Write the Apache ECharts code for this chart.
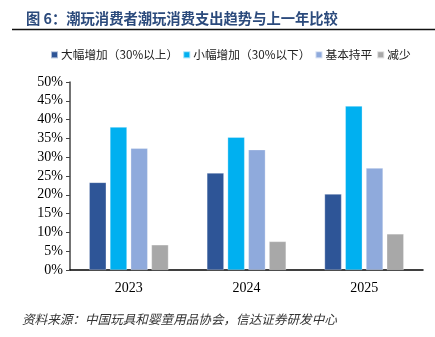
<!DOCTYPE html>
<html>
<head>
<meta charset="utf-8">
<script src="https://cdn.jsdelivr.net/npm/echarts@6/dist/echarts.min.js"></script>
<style>
  html, body { margin: 0; padding: 0; background: #fff; }
  #chart { width: 435px; height: 337px; }
</style>
</head>
<body>
<div id="chart"></div>
<script>
// Survey years and share of respondents per spending-trend answer (%)
const years = ['2023', '2024', '2025'];
const seriesNames = ['大幅增加（30%以上）', '小幅增加（30%以下）', '基本持平', '减少'];
const bigIncrease = [23.3, 25.8, 20.2];
const smallIncrease = [38.0, 35.3, 43.6];
const flat = [32.4, 32.0, 27.1];
const decrease = [6.7, 7.6, 9.6];
const yTicks = [0, 5, 10, 15, 20, 25, 30, 35, 40, 45, 50];

const colors = ['#2E5597', '#00B0F0', '#8FAADC', '#A8A8A8'];
const values = [bigIncrease, smallIncrease, flat, decrease];

const chart = echarts.init(document.getElementById('chart'));

const serifFont = '"Liberation Serif", "Times New Roman", serif';
const cjkFont = '"Noto Sans CJK SC", sans-serif';

chart.setOption({
  animation: false,
  backgroundColor: '#fff',
  color: colors,
  title: {
    text: '图 6：潮玩消费者潮玩消费支出趋势与上一年比较',
    left: 21,
    top: 6,
    textStyle: {
      fontFamily: cjkFont,
      fontSize: 14.3,
      fontWeight: 'bold',
      color: '#2B4A7C'
    }
  },
  graphic: [
    {
      type: 'line',
      shape: { x1: 12, y1: 29.5, x2: 435, y2: 29.5 },
      style: { stroke: '#111', lineWidth: 1.5 }
    },
    {
      type: 'text',
      left: 22,
      top: 313,
      style: {
        text: '资料来源：中国玩具和婴童用品协会，信达证券研发中心',
        fontFamily: cjkFont,
        fontSize: 12.6,
        fontStyle: 'italic',
        fill: '#333'
      }
    }
  ],
  legend: {
    data: seriesNames,
    left: 45,
    top: 44,
    icon: 'rect',
    itemWidth: 7,
    itemHeight: 7,
    itemGap: 4,
    textStyle: {
      fontFamily: cjkFont,
      fontSize: 11.7,
      color: '#222',
      padding: [0, 0, 0, -2]
    }
  },
  grid: {
    left: 70,
    right: 12,
    top: 82,
    bottom: 67,
    containLabel: false
  },
  xAxis: {
    type: 'category',
    data: years,
    axisLine: { lineStyle: { color: '#000', width: 1.5 } },
    axisTick: { show: false },
    axisLabel: {
      fontFamily: serifFont,
      fontSize: 14,
      color: '#000',
      margin: 11
    }
  },
  yAxis: {
    type: 'value',
    min: yTicks[0],
    max: yTicks[yTicks.length - 1],
    interval: 5,
    axisLine: { show: true, lineStyle: { color: '#444', width: 1.5 } },
    axisTick: { show: true, length: 4, lineStyle: { color: '#444' } },
    splitLine: { show: false },
    axisLabel: {
      fontFamily: serifFont,
      fontSize: 14,
      color: '#000',
      margin: 7,
      formatter: v => v + '%'
    }
  },
  series: seriesNames.map((name, i) => ({
    name,
    type: 'bar',
    data: values[i],
    barWidth: 17,
    barGap: '22%',
    itemStyle: { color: colors[i], borderColor: 'rgba(255,255,255,0.6)', borderWidth: 0.5 }
  }))
});
</script>
</body>
</html>
